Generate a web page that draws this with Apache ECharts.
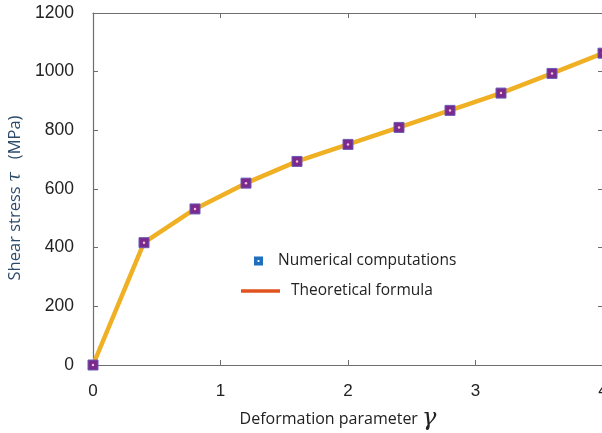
<!DOCTYPE html>
<html>
<head>
<meta charset="utf-8">
<script src="https://cdn.jsdelivr.net/npm/echarts@6/dist/echarts.min.js"></script>
<style>
  html, body { margin: 0; padding: 0; background: #fff; }
  #chart { width: 602px; height: 433px; }
</style>
</head>
<body>
<div id="chart"></div>
<script>
// Deformation parameter γ and shear stress τ (MPa)
const gamma = [0, 0.4, 0.8, 1.2, 1.6, 2.0, 2.4, 2.8, 3.2, 3.6, 4.0];
const numerical = [0, 417, 532, 620, 694, 752, 810, 868, 927, 994, 1063];
const theoretical = [0, 417, 532, 620, 694, 752, 810, 868, 927, 994, 1063];
const xTicks = [0, 1, 2, 3, 4];
const yTicks = [0, 200, 400, 600, 800, 1000, 1200];

const pairs = (xs, ys) => xs.map((x, i) => [x, ys[i]]);
const axisGray = '#6e6e6e';

// square outline with a hollow centre, used as the legend marker
const hollowSquare = 'path://M0,0 L10,0 L10,10 L0,10 Z M4,4 L4,6 L6,6 L6,4 Z';

const chart = echarts.init(document.getElementById('chart'));
chart.setOption({
  animation: false,
  backgroundColor: '#fff',
  grid: { left: 93, right: -1, top: 13, bottom: 68, outerBoundsMode: 'none', containLabel: false },
  xAxis: [{
    type: 'value', min: 0, max: 4, interval: 1,
    axisLine: { show: true, onZero: false, lineStyle: { color: axisGray, width: 1.2 } },
    axisTick: { show: true, inside: true, length: 5, lineStyle: { color: axisGray } },
    splitLine: { show: false },
    axisLabel: { color: '#222', fontSize: 17, fontFamily: 'Liberation Sans', margin: 18,
      formatter: v => xTicks.includes(v) ? String(v) : '' },
    name: '{t|Deformation parameter }{g|γ}',
    nameLocation: 'middle', nameGap: 42,
    nameTextStyle: {
      padding: [0, 20, 0, 0],
      rich: {
        t: { fontSize: 16, color: '#222', fontFamily: 'Open Sans' },
        g: { fontSize: 24, color: '#222', fontFamily: 'DejaVu Serif', fontStyle: 'italic' }
      }
    }
  }, {
    type: 'value', position: 'top', min: 0, max: 4, interval: 1,
    axisLine: { show: true, onZero: false, lineStyle: { color: axisGray, width: 1.2 } },
    axisTick: { show: true, inside: true, length: 5, lineStyle: { color: axisGray } },
    axisLabel: { show: false }, splitLine: { show: false }
  }],
  yAxis: [{
    type: 'value', min: 0, max: 1200, interval: 200,
    axisLine: { show: true, onZero: false, lineStyle: { color: axisGray, width: 1.2 } },
    axisTick: { show: true, inside: true, length: 5, lineStyle: { color: axisGray } },
    splitLine: { show: false },
    axisLabel: { color: '#222', fontSize: 17.5, fontFamily: 'Liberation Sans', margin: 19,
      formatter: v => yTicks.includes(v) ? String(v) : '' },
    name: '{t|Shear stress }{g|τ}{t|   (MPa)}',
    nameLocation: 'middle', nameGap: 56,
    nameTextStyle: {
      padding: [0, 18, 0, 0],
      rich: {
        t: { fontSize: 16.5, color: '#2c4a6a', fontFamily: 'Open Sans' },
        g: { fontSize: 18, color: '#2c4a6a', fontFamily: 'DejaVu Serif', fontStyle: 'italic' }
      }
    }
  }, {
    type: 'value', position: 'right', min: 0, max: 1200, interval: 200,
    axisLine: { show: true, onZero: false, lineStyle: { color: axisGray, width: 1.2 } },
    axisTick: { show: true, inside: true, length: 5, lineStyle: { color: axisGray } },
    axisLabel: { show: false }, splitLine: { show: false }
  }],
  legend: [{
    data: [{
      name: 'Numerical computations',
      icon: hollowSquare,
      itemStyle: { color: '#1f6fbf', borderWidth: 0 }
    }],
    left: 249, top: 248, itemWidth: 9, itemHeight: 9, itemGap: 0,
    textStyle: { fontSize: 15.5, color: '#222', fontFamily: 'Open Sans', padding: [0, 0, 0, 10] },
    selectedMode: false
  }, {
    data: [{
      name: 'Theoretical formula',
      icon: 'rect',
      itemStyle: { color: '#e0531f', borderWidth: 0 }
    }],
    left: 236, top: 278, itemWidth: 39, itemHeight: 3.5,
    textStyle: { fontSize: 15.5, color: '#222', fontFamily: 'Open Sans', padding: [0, 0, 0, 6] },
    selectedMode: false
  }],
  series: [{
    name: 'Theoretical formula',
    type: 'line',
    data: pairs(gamma, theoretical),
    showSymbol: false,
    lineStyle: { color: '#f0b024', width: 4.5 },
    itemStyle: { color: '#f0b024' },
    z: 2
  }, {
    name: 'Numerical computations',
    type: 'scatter',
    data: pairs(gamma, numerical),
    symbol: 'rect', symbolSize: 10,
    itemStyle: { color: '#7a2a8c', borderColor: '#6a5ab8', borderWidth: 1, opacity: 1 },
    z: 3
  }, {
    // small light centre dot inside each square marker
    type: 'scatter',
    data: pairs(gamma, numerical),
    symbol: 'circle', symbolSize: 2.5,
    itemStyle: { color: '#f0c0d8', opacity: 1 },
    silent: true,
    z: 4
  }]
});
</script>
</body>
</html>
